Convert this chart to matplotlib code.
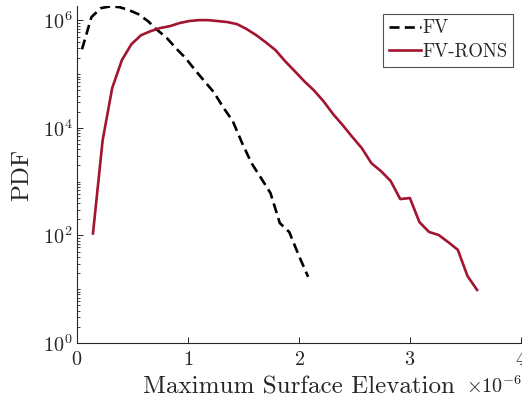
import matplotlib
matplotlib.use("Agg")
import matplotlib.pyplot as plt
from matplotlib.ticker import FixedLocator, LogLocator, NullFormatter

plt.rcParams["font.family"] = ["cmr10"]
plt.rcParams["mathtext.fontset"] = "cm"
plt.rcParams["axes.formatter.use_mathtext"] = True

# bin centres of the maximum surface elevation (x 1e-6) and the PDF per bin
fv_elev = [0.045, 0.130, 0.215, 0.300, 0.384, 0.469, 0.554, 0.639, 0.724,
           0.809, 0.894, 0.979, 1.064, 1.148, 1.233, 1.318, 1.403, 1.488,
           1.573, 1.658, 1.743, 1.827, 1.912, 1.997, 2.082]
fv_pdf = [2.9e5, 1.15e6, 1.69e6, 1.82e6, 1.76e6, 1.55e6, 1.30e6, 9.7e5, 6.6e5,
          4.7e5, 3.0e5, 1.98e5, 1.19e5, 7.4e4, 4.6e4, 2.4e4, 1.34e4, 5.2e3,
          2.2e3, 1.17e3, 614, 170, 116, 43, 17]

rons_elev = [0.144, 0.231, 0.317, 0.404, 0.490, 0.577, 0.663, 0.750, 0.836,
             0.923, 1.009, 1.096, 1.182, 1.269, 1.355, 1.442, 1.528, 1.615,
             1.701, 1.788, 1.874, 1.961, 2.047, 2.134, 2.220, 2.307, 2.393,
             2.480, 2.566, 2.653, 2.739, 2.826, 2.912, 2.999, 3.085, 3.172,
             3.258, 3.345, 3.431, 3.518, 3.604]
rons_pdf = [109, 5.9e3, 5.5e4, 1.82e5, 3.6e5, 5.3e5, 6.3e5, 7.2e5, 7.8e5,
            8.9e5, 9.7e5, 1.01e6, 1.01e6, 9.7e5, 9.3e5, 8.5e5, 6.9e5, 5.3e5,
            3.9e5, 2.8e5, 1.75e5, 1.14e5, 7.4e4, 5.0e4, 3.15e4, 1.81e4, 1.13e4,
            6.8e3, 4.2e3, 2.2e3, 1.57e3, 1.03e3, 475, 496, 177, 116,
            102, 75, 54, 17.6, 9.7]

x_ticks = [0, 1, 2, 3, 4]
y_ticks = [1e0, 1e2, 1e4, 1e6]

text_color = "#262626"
rons_color = "#A2142F"

fig = plt.figure(figsize=(5.22, 4.03), dpi=100)
ax = fig.add_axes([77 / 522, 1 - 343 / 403, 444 / 522, 337 / 403])

ax.plot(fv_elev, fv_pdf, color="black", linewidth=1.9,
        linestyle=(0, (3.8, 2.0)), label="FV")
ax.plot(rons_elev, rons_pdf, color=rons_color, linewidth=1.9, label="FV-RONS")

ax.set_yscale("log")
ax.set_xlim(0, 4)
ax.set_ylim(1, 1.85e6)

ax.xaxis.set_major_locator(FixedLocator(x_ticks))
ax.yaxis.set_major_locator(FixedLocator(y_ticks))
ax.yaxis.set_minor_locator(LogLocator(base=10, subs=range(1, 10), numticks=20))
ax.yaxis.set_minor_formatter(NullFormatter())

for side in ("top", "right"):
    ax.spines[side].set_visible(False)
for side in ("left", "bottom"):
    ax.spines[side].set_color(text_color)
    ax.spines[side].set_linewidth(0.8)

ax.tick_params(which="major", direction="in", length=4, width=0.7,
               colors=text_color, labelsize=14.5)
ax.tick_params(which="minor", direction="in", length=2, width=0.6,
               colors=text_color)
ax.tick_params(axis="x", pad=6)
ax.tick_params(axis="y", pad=3)

ax.set_xlabel("Maximum Surface Elevation", fontsize=18, color=text_color,
              labelpad=5)
ax.set_ylabel("PDF", fontsize=18, color=text_color, labelpad=7)
fig.text(1.0, 1 - 393 / 403, r"$\times10^{-6}$", fontsize=14.5,
         color=text_color, ha="right", va="baseline")

leg = ax.legend(loc="upper right", fontsize=13.5, frameon=True, fancybox=False,
                handlelength=1.7, handletextpad=0.1, borderpad=0.3,
                labelspacing=0.3, borderaxespad=0.42)
leg.get_frame().set_edgecolor(text_color)
leg.get_frame().set_linewidth(0.8)
for t in leg.get_texts():
    t.set_color(text_color)

fig.savefig("out.png", dpi=100)
